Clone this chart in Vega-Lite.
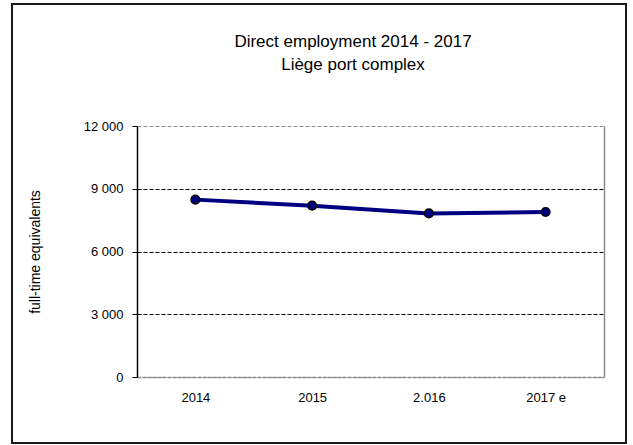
{
  "$schema": "https://vega.github.io/schema/vega-lite/v6.json",
  "width": 614,
  "height": 439,
  "autosize": {"type": "none"},
  "padding": {"left": 12, "top": 4, "right": 7, "bottom": 2},
  "background": "white",
  "config": {
    "font": "Liberation Sans",
    "view": {"stroke": "#1a1a1a", "strokeWidth": 2},
    "axis": {
      "labelFont": "Liberation Sans",
      "titleFont": "Liberation Sans",
      "labelColor": "black",
      "titleColor": "black",
      "labelFontSize": 13,
      "titleFontSize": 14,
      "titleFontWeight": "normal"
    }
  },
  "title": {
    "text": ["Direct employment 2014 - 2017", "Liège port complex"],
    "anchor": "middle",
    "frame": "group",
    "orient": "top",
    "baseline": "top",
    "offset": -70,
    "dx": 34,
    "fontSize": 17,
    "fontWeight": "normal",
    "font": "Liberation Sans",
    "color": "black",
    "lineHeight": 23
  },
  "data": {
    "values": [
      {"year": "2014", "employment": 8480},
      {"year": "2015", "employment": 8190},
      {"year": "2.016", "employment": 7820},
      {"year": "2017 e", "employment": 7890}
    ]
  },
  "layer": [
    {
      "mark": {"type": "line", "color": "#000080", "strokeWidth": 4},
      "encoding": {
        "x": {
          "field": "year",
          "type": "ordinal",
          "sort": null,
          "scale": {"range": [125, 592]},
          "axis": {
            "orient": "bottom",
            "offset": -66,
            "title": null,
            "labelAngle": 0,
            "ticks": false,
            "tickSize": 0,
            "labelPadding": 14,
            "domainColor": "#8a8a8a",
            "domainWidth": 1.5,
            "domainDash": [4, 1],
            "grid": false
          }
        },
        "y": {
          "field": "employment",
          "type": "quantitative",
          "scale": {"domain": [0, 12000], "range": [373, 122], "nice": false},
          "axis": {
            "orient": "left",
            "offset": -125,
            "values": [0, 3000, 6000, 9000, 12000],
            "labelExpr": "replace(format(datum.value, ','), ',', ' ')",
            "domainColor": "black",
            "domainWidth": 1.5,
            "tickColor": "black",
            "tickSize": 5,
            "labelPadding": 9,
            "title": "full-time equivalents",
            "titlePadding": 41,
            "grid": true,
            "gridColor": {"condition": {"test": "datum.value == 0 || datum.value == 12000", "value": "#8a8a8a"}, "value": "black"},
            "gridDash": [4, 2],
            "gridWidth": 1
          }
        }
      }
    },
    {
      "mark": {"type": "point", "filled": true, "fill": "#000080", "stroke": "black", "strokeWidth": 1.5, "size": 75, "opacity": 1},
      "encoding": {
        "x": {"field": "year", "type": "ordinal", "sort": null, "scale": {"range": [125, 592]}},
        "y": {
          "field": "employment",
          "type": "quantitative",
          "scale": {"domain": [0, 12000], "range": [373, 122], "nice": false},
          "axis": {
            "orient": "right",
            "offset": -22,
            "labels": false,
            "ticks": false,
            "grid": false,
            "title": null,
            "domainColor": "#8a8a8a",
            "domainWidth": 1.5
          }
        }
      }
    }
  ],
  "resolve": {"axis": {"y": "independent"}}
}
